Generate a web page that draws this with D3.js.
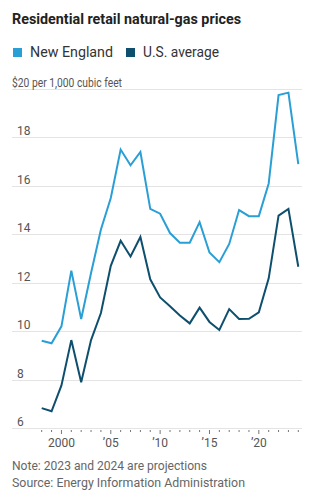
<!DOCTYPE html>
<html>
<head>
<meta charset="utf-8">
<script src="https://d3js.org/d3.v7.min.js"></script>
<style>
  body { margin: 0; background: #fff; }
  svg text { font-family: Roboto, 'Noto Sans', sans-serif; }
</style>
</head>
<body>
<svg id="chart" width="311" height="497"></svg>
<script>
// data ($ per 1,000 cubic feet)
const years = [1998, 1999, 2000, 2001, 2002, 2003, 2004, 2005, 2006, 2007, 2008, 2009, 2010,
  2011, 2012, 2013, 2014, 2015, 2016, 2017, 2018, 2019, 2020, 2021, 2022, 2023, 2024];
const newEngland = [9.6, 9.5, 10.2, 12.5, 10.5, 12.4, 14.2, 15.5, 17.5, 16.85, 17.4, 15.05, 14.85,
  14.05, 13.65, 13.65, 14.5, 13.25, 12.85, 13.6, 15.0, 14.75, 14.75, 16.1, 19.75, 19.85, 16.9];
const usAverage = [6.82, 6.69, 7.76, 9.63, 7.89, 9.63, 10.75, 12.70, 13.73, 13.08, 13.89, 12.14, 11.39,
  11.03, 10.65, 10.32, 10.97, 10.38, 10.05, 10.91, 10.50, 10.51, 10.78, 12.18, 14.77, 15.05, 12.66];
const yTicks = [6, 8, 10, 12, 14, 16, 18, 20];
const xMajor = [2000, 2005, 2010, 2015, 2020];
const xLabels = ['2000', "\u200905", "\u200910", "\u200915", "\u200920"];

const svg = d3.select('#chart');
const x = d3.scaleLinear().domain([1998, 2024]).range([41.7, 298.3]);
const y = d3.scaleLinear().domain([6, 20]).range([428, 89]);
const gridLeft = 12, gridRight = 302;

function fit(sel, w) {
  sel.attr('textLength', w).attr('lengthAdjust', 'spacingAndGlyphs');
}

// title
svg.append('text').attr('x', 12).attr('y', 24)
  .attr('font-size', 14.5).attr('font-weight', 700).attr('fill', '#222')
  .text('Residential retail natural-gas prices').call(fit, 229);

// legend
const legend = [
  { name: 'New England', color: '#2a9fd6', x: 13, w: 83 },
  { name: 'U.S. average', color: '#0e4f6e', x: 126, w: 76 }
];
legend.forEach(d => {
  svg.append('rect').attr('x', d.x).attr('y', 48).attr('width', 9).attr('height', 9).attr('fill', d.color);
  svg.append('text').attr('x', d.x + 17).attr('y', 57).attr('font-size', 14.5).attr('fill', '#333')
    .text(d.name).call(fit, d.w);
});

// gridlines
svg.append('g').selectAll('line').data(yTicks).join('line')
  .attr('x1', gridLeft).attr('x2', gridRight)
  .attr('y1', d => Math.round(y(d)) + 0.5).attr('y2', d => Math.round(y(d)) + 0.5)
  .attr('stroke', '#e4e4e4').attr('stroke-width', 1);

// y labels
svg.append('g').selectAll('text').data(yTicks).join('text')
  .attr('x', d => d === 20 ? 12 : 17)
  .attr('y', d => Math.round(y(d)) - 2.5)
  .attr('font-size', 12).attr('fill', '#555')
  .text(d => d === 20 ? '$20 per 1,000 cubic feet' : d)
  .each(function (d) { if (d === 20) d3.select(this).call(fit, 110); });

// x axis ticks
const axis = svg.append('g').attr('transform', 'translate(0,' + (Math.round(y(6)) + 1) + ')');
axis.selectAll('line').data(years).join('line')
  .attr('x1', d => x(d)).attr('x2', d => x(d))
  .attr('y1', 1).attr('y2', d => xMajor.includes(d) ? 5 : 3)
  .attr('stroke', '#777').attr('stroke-width', 1);
axis.selectAll('text').data(xMajor).join('text')
  .attr('x', d => x(d)).attr('y', 18)
  .attr('text-anchor', 'middle').attr('font-size', 12).attr('fill', '#555')
  .text((d, i) => i === 0 ? xLabels[i] : '\u2019' + String(d).slice(2));

// lines
const line = vals => d3.line().x((d, i) => x(years[i])).y(d => y(d))(vals);
svg.append('path').attr('d', line(newEngland)).attr('fill', 'none')
  .attr('stroke', '#2a9fd6').attr('stroke-width', 2).attr('stroke-linejoin', 'miter');
svg.append('path').attr('d', line(usAverage)).attr('fill', 'none')
  .attr('stroke', '#0e4f6e').attr('stroke-width', 2).attr('stroke-linejoin', 'miter');

// notes
svg.append('text').attr('x', 12).attr('y', 470).attr('font-size', 12.5).attr('fill', '#666')
  .text('Note: 2023 and 2024 are projections').call(fit, 195);
svg.append('text').attr('x', 12).attr('y', 487).attr('font-size', 12.5).attr('fill', '#666')
  .text('Source: Energy Information Administration').call(fit, 233);
</script>
</body>
</html>
